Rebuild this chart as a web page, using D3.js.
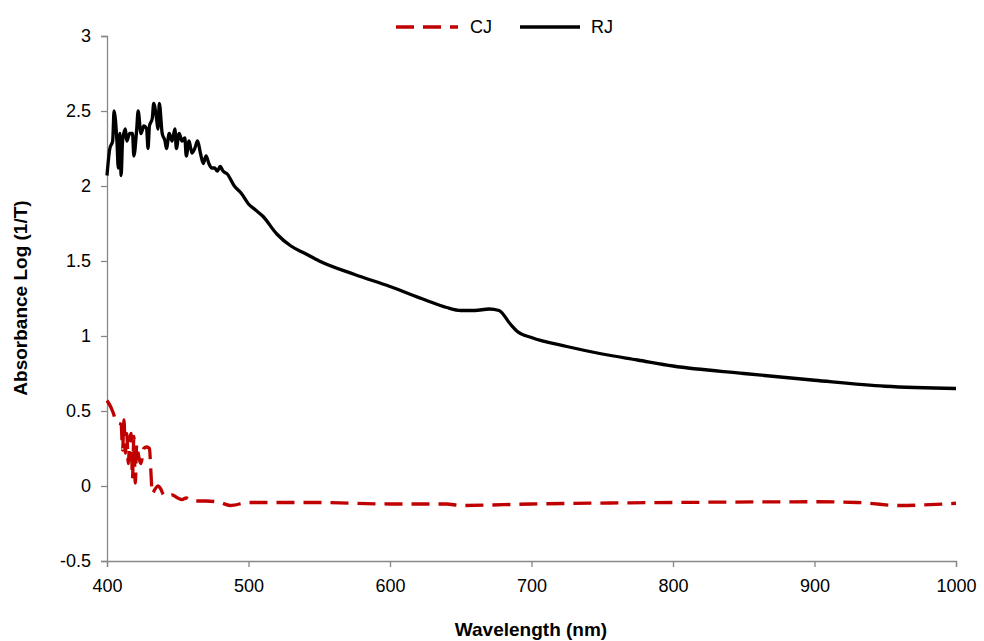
<!DOCTYPE html>
<html><head><meta charset="utf-8">
<script src="https://cdn.jsdelivr.net/npm/d3@7"></script>
<style>body{margin:0;background:#fff;font-family:"Liberation Sans",Arial,sans-serif;}</style>
</head><body>
<script>
const rjWave = [400,402,404,405,407,408,409,410,411,413,414,416,418,419,421,422,424,426,428,429,430,432,433,435,436,437,439,441,442,444,446,448,449,451,453,455,456,458,460,462,464,466,468,470,472,474,476,478,480,482,485,490,495,500,505,510,520,530,540,550,575,600,625,640,650,660,670,677,685,690,700,725,750,775,800,850,900,950,1000];
const rjVals = [2.07,2.25,2.3,2.5,2.3,2.12,2.35,2.07,2.3,2.38,2.3,2.35,2.35,2.2,2.38,2.5,2.35,2.4,2.38,2.25,2.4,2.45,2.55,2.45,2.38,2.55,2.35,2.3,2.25,2.35,2.3,2.38,2.25,2.35,2.3,2.32,2.2,2.3,2.22,2.25,2.3,2.22,2.15,2.2,2.15,2.12,2.12,2.1,2.13,2.1,2.08,2.0,1.95,1.88,1.84,1.8,1.68,1.6,1.55,1.5,1.41,1.33,1.24,1.19,1.17,1.17,1.18,1.17,1.08,1.03,0.99,0.93,0.88,0.84,0.8,0.75,0.705,0.665,0.65];
const cjWave = [400,403,405,406,410,411,412,413,414,415,416,417,418,419,420,421,422,424,426,428,430,431,432,434,436,438,440,443,446,450,453,456,460,470,480,487,500,550,600,640,650,700,800,900,930,960,1000];
const cjVals = [0.57,0.52,0.47,0.43,0.41,0.24,0.44,0.22,0.35,0.15,0.3,0.35,0.05,0.33,0.02,0.28,0.22,0.15,0.25,0.26,0.25,0.1,-0.05,-0.02,0,-0.02,-0.06,-0.07,-0.06,-0.08,-0.09,-0.08,-0.1,-0.1,-0.11,-0.13,-0.11,-0.11,-0.12,-0.12,-0.13,-0.12,-0.11,-0.105,-0.11,-0.13,-0.115];
const xTicks = [400,500,600,700,800,900,1000];
const yTicks = [-0.5,0,0.5,1,1.5,2,2.5,3];

const svg = d3.select('body').append('svg').attr('width',984).attr('height',641);
const x = d3.scaleLinear().domain([400,1000]).range([107,956]);
const y = d3.scaleLinear().domain([-0.5,3]).range([561,36]);

const gx = svg.append('g').attr('transform','translate(0,561)')
  .call(d3.axisBottom(x).tickValues(xTicks).tickSize(6).tickPadding(12).tickFormat(d3.format('d')));
const gy = svg.append('g').attr('transform','translate(107,0)')
  .call(d3.axisLeft(y).tickValues(yTicks).tickSize(6).tickPadding(10).tickFormat(d => d));
[gx,gy].forEach(g => {
  g.selectAll('path,line').attr('stroke','#888').attr('stroke-width',1.3);
  g.selectAll('text').attr('font-size',18).attr('fill','#000').attr('font-family','Liberation Sans, Arial, sans-serif');
});

const line = d3.line().curve(d3.curveMonotoneX).x(d => x(d[0])).y(d => y(d[1]));
svg.append('path').datum(cjWave.map((w,i)=>[w,cjVals[i]]))
  .attr('d',line).attr('fill','none').attr('stroke','#c00000').attr('stroke-width',3.3).attr('stroke-dasharray','18,9');
svg.append('path').datum(rjWave.map((w,i)=>[w,rjVals[i]]))
  .attr('d',line).attr('fill','none').attr('stroke','#000').attr('stroke-width',3.3).attr('stroke-linejoin','round');

svg.append('text').attr('x',531).attr('y',636).attr('text-anchor','middle')
  .attr('font-size',19).attr('font-weight','bold').text('Wavelength (nm)');
svg.append('text').attr('transform','translate(27,298) rotate(-90)').attr('text-anchor','middle')
  .attr('font-size',19).attr('font-weight','bold').text('Absorbance Log (1/T)');

const leg = svg.append('g');
leg.append('line').attr('x1',396).attr('x2',458).attr('y1',27).attr('y2',27)
  .attr('stroke','#c00000').attr('stroke-width',3.3).attr('stroke-dasharray','18,9');
leg.append('text').attr('x',470).attr('y',33).attr('font-size',18).text('CJ');
leg.append('line').attr('x1',520).attr('x2',580).attr('y1',27).attr('y2',27)
  .attr('stroke','#000').attr('stroke-width',3.3);
leg.append('text').attr('x',591).attr('y',33).attr('font-size',18).text('RJ');
</script>
</body></html>
